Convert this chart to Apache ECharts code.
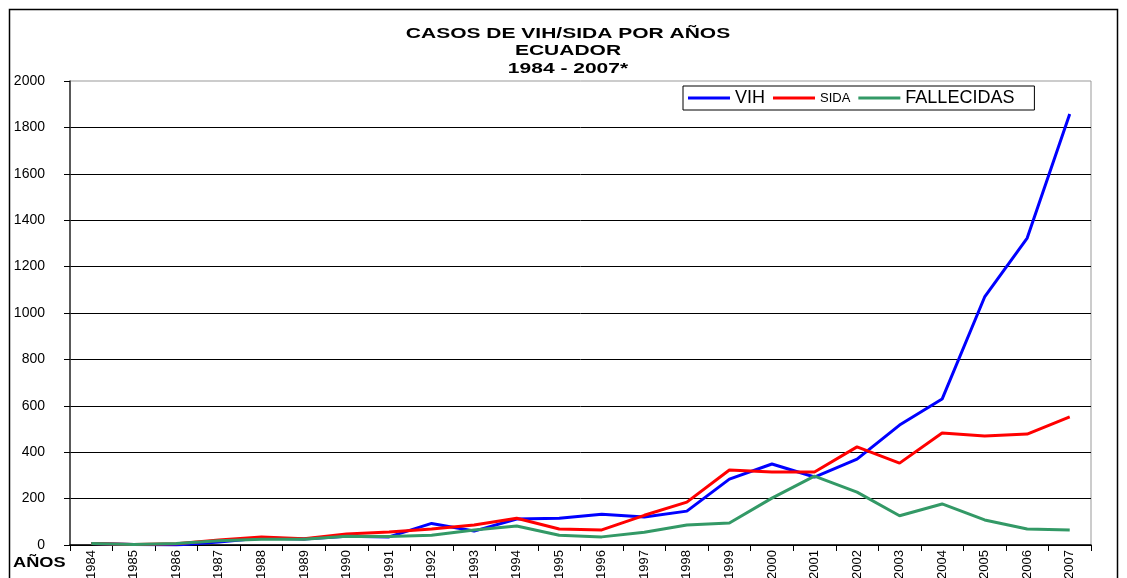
<!DOCTYPE html>
<html>
<head>
<meta charset="utf-8">
<script src="https://cdn.jsdelivr.net/npm/echarts@6/dist/echarts.min.js"></script>
<style>
  html, body { margin: 0; padding: 0; background: #fff; }
  #chart { width: 1127px; height: 578px; }
</style>
</head>
<body>
<div id="chart"></div>
<script>
const years = ['1984', '1985', '1986', '1987', '1988', '1989', '1990', '1991', '1992', '1993', '1994', '1995',
  '1996', '1997', '1998', '1999', '2000', '2001', '2002', '2003', '2004', '2005', '2006', '2007']
const vih = [7, 2, 0, 13, 30, 26, 38, 35, 93, 60, 112, 115, 133, 121, 146, 284, 349, 293, 370, 517, 629, 1069, 1323, 1858]
const sida = [7, 2, 5, 22, 35, 27, 47, 56, 69, 86, 115, 69, 65, 128, 185, 323, 315, 315, 423, 353, 483, 470, 478, 552]
const fallecidas = [7, 2, 6, 18, 25, 25, 38, 37, 42, 65, 82, 42, 35, 55, 86, 95, 202, 297, 228, 126, 177, 108, 69, 65]

const FONT = '"Liberation Sans", Arial, sans-serif'

const chart = echarts.init(document.getElementById('chart'))

function line(name, data, color) {
  return {
    name,
    type: 'line',
    data,
    symbol: 'none',
    lineStyle: { color, width: 3 },
    itemStyle: { color },
  }
}

chart.setOption({
  animation: false,
  legend: {
    left: 683,
    top: 86,
    padding: [3, 20, 3, 5],
    itemGap: 8,
    itemWidth: 42,
    itemHeight: 3,
    icon: 'rect',
    borderColor: '#000',
    borderWidth: 1,
    textStyle: { fontFamily: FONT, fontSize: 18, color: '#000' },
    data: [
      { name: 'VIH' },
      { name: 'SIDA', textStyle: { fontSize: 13 } },
      { name: 'FALLECIDAS' },
    ],
  },
  grid: {
    left: 70, right: 36, top: 81, bottom: 33,
    outerBoundsMode: 'none',
    show: true, borderColor: '#999', borderWidth: 1, backgroundColor: 'transparent',
  },
  xAxis: {
    type: 'category',
    data: years,
    boundaryGap: true,
    axisLine: { lineStyle: { color: '#000', width: 1.5 } },
    axisTick: { show: true, length: 6, lineStyle: { color: '#000' } },
    axisLabel: {
      rotate: 90, interval: 0, margin: 5,
      fontFamily: '"Liberation Sans Narrow", "Liberation Sans", sans-serif', fontSize: 13, color: '#000',
    },
  },
  yAxis: {
    type: 'value',
    min: 0, max: 2000, interval: 200,
    axisLine: { show: true, lineStyle: { color: '#333', width: 1.5 } },
    axisTick: { show: true, length: 6, lineStyle: { color: '#000' } },
    axisLabel: { fontFamily: FONT, fontSize: 14, color: '#000', margin: 25, formatter: v => String(v) },
    splitLine: { show: true, showMaxLine: false, lineStyle: { color: '#000', width: 1 } },
  },
  graphic: [
    {
      type: 'rect',
      shape: { x: 9.5, y: 9.5, width: 1108, height: 620 },
      style: { fill: 'none', stroke: '#000', lineWidth: 1.5 },
      silent: true,
    },
    {
      // title, stretched wide like the original
      type: 'text',
      x: 568, y: 25,
      scaleX: 1.5,
      style: {
        text: 'CASOS DE VIH/SIDA POR AÑOS\nECUADOR\n1984 - 2007*',
        font: 'bold 14px "Liberation Sans", Arial, sans-serif',
        fill: '#000', align: 'center', verticalAlign: 'top', lineHeight: 17.5,
      },
    },
    {
      type: 'text',
      x: 13, y: 556,
      scaleX: 1.3,
      style: { text: 'AÑOS', font: 'bold 14px "Liberation Sans", Arial, sans-serif', fill: '#000' },
    },
  ],
  series: [
    line('VIH', vih, '#0000ff'),
    line('SIDA', sida, '#ff0000'),
    line('FALLECIDAS', fallecidas, '#339966'),
  ],
})
</script>
</body>
</html>
